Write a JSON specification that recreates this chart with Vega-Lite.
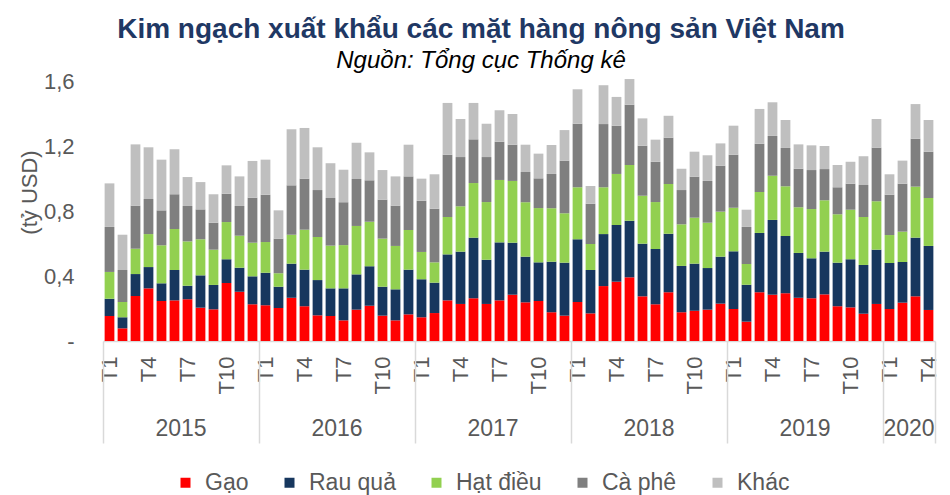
{
  "$schema": "https://vega.github.io/schema/vega-lite/v6.json",
  "width": 832,
  "height": 260,
  "autosize": {"type": "none"},
  "padding": {"left": 103, "top": 81, "right": 15, "bottom": 154},
  "background": "white",
  "config": {"font": "Liberation Sans", "view": {"stroke": null}},
  "title": {
    "text": "Kim ngạch xuất khẩu các mặt hàng nông sản Việt Nam",
    "subtitle": "Nguồn: Tổng cục Thống kê",
    "fontSize": 28,
    "fontWeight": "bold",
    "color": "#1F3864",
    "subtitleFontSize": 24,
    "subtitleFontStyle": "italic",
    "subtitleColor": "#000000",
    "subtitlePadding": 5,
    "anchor": "middle",
    "dx": -38,
    "offset": -3
  },
  "datasets": {
    "kn": [
      {"t": "2015-T1", "Gạo": 0.154, "Rau quả": 0.106, "Hạt điều": 0.165, "Cà phê": 0.277, "Khác": 0.268},
      {"t": "2015-T2", "Gạo": 0.078, "Rau quả": 0.068, "Hạt điều": 0.094, "Cà phê": 0.197, "Khác": 0.217},
      {"t": "2015-T3", "Gạo": 0.277, "Rau quả": 0.135, "Hạt điều": 0.156, "Cà phê": 0.265, "Khác": 0.377},
      {"t": "2015-T4", "Gạo": 0.324, "Rau quả": 0.131, "Hạt điều": 0.203, "Cà phê": 0.216, "Khác": 0.318},
      {"t": "2015-T5", "Gạo": 0.246, "Rau quả": 0.109, "Hạt điều": 0.234, "Cà phê": 0.215, "Khác": 0.312},
      {"t": "2015-T6", "Gạo": 0.250, "Rau quả": 0.187, "Hạt điều": 0.252, "Cà phê": 0.214, "Khác": 0.277},
      {"t": "2015-T7", "Gạo": 0.257, "Rau quả": 0.083, "Hạt điều": 0.273, "Cà phê": 0.218, "Khác": 0.178},
      {"t": "2015-T8", "Gạo": 0.205, "Rau quả": 0.199, "Hạt điều": 0.222, "Cà phê": 0.184, "Khác": 0.168},
      {"t": "2015-T9", "Gạo": 0.195, "Rau quả": 0.150, "Hạt điều": 0.217, "Cà phê": 0.166, "Khác": 0.175},
      {"t": "2015-T10", "Gạo": 0.357, "Rau quả": 0.146, "Hạt điều": 0.229, "Cà phê": 0.174, "Khác": 0.175},
      {"t": "2015-T11", "Gạo": 0.303, "Rau quả": 0.148, "Hạt điều": 0.197, "Cà phê": 0.183, "Khác": 0.182},
      {"t": "2015-T12", "Gạo": 0.226, "Rau quả": 0.172, "Hạt điều": 0.207, "Cà phê": 0.277, "Khác": 0.226},
      {"t": "2016-T1", "Gạo": 0.220, "Rau quả": 0.200, "Hạt điều": 0.189, "Cà phê": 0.291, "Khác": 0.216},
      {"t": "2016-T2", "Gạo": 0.203, "Rau quả": 0.131, "Hạt điều": 0.083, "Cà phê": 0.213, "Khác": 0.174},
      {"t": "2016-T3", "Gạo": 0.266, "Rau quả": 0.210, "Hạt điều": 0.178, "Cà phê": 0.304, "Khác": 0.345},
      {"t": "2016-T4", "Gạo": 0.214, "Rau quả": 0.225, "Hạt điều": 0.246, "Cà phê": 0.314, "Khác": 0.312},
      {"t": "2016-T5", "Gạo": 0.158, "Rau quả": 0.217, "Hạt điều": 0.265, "Cà phê": 0.289, "Khác": 0.263},
      {"t": "2016-T6", "Gạo": 0.154, "Rau quả": 0.170, "Hạt điều": 0.263, "Cà phê": 0.293, "Khác": 0.214},
      {"t": "2016-T7", "Gạo": 0.127, "Rau quả": 0.197, "Hạt điều": 0.266, "Cà phê": 0.264, "Khác": 0.200},
      {"t": "2016-T8", "Gạo": 0.193, "Rau quả": 0.217, "Hạt điều": 0.298, "Cà phê": 0.289, "Khác": 0.223},
      {"t": "2016-T9", "Gạo": 0.217, "Rau quả": 0.243, "Hạt điều": 0.274, "Cà phê": 0.255, "Khác": 0.172},
      {"t": "2016-T10", "Gạo": 0.156, "Rau quả": 0.178, "Hạt điều": 0.296, "Cà phê": 0.240, "Khác": 0.182},
      {"t": "2016-T11", "Gạo": 0.127, "Rau quả": 0.191, "Hạt điều": 0.267, "Cà phê": 0.248, "Khác": 0.180},
      {"t": "2016-T12", "Gạo": 0.164, "Rau quả": 0.275, "Hạt điều": 0.244, "Cà phê": 0.330, "Khác": 0.195},
      {"t": "2017-T1", "Gạo": 0.146, "Rau quả": 0.234, "Hạt điều": 0.168, "Cà phê": 0.315, "Khác": 0.136},
      {"t": "2017-T2", "Gạo": 0.172, "Rau quả": 0.187, "Hạt điều": 0.125, "Cà phê": 0.330, "Khác": 0.212},
      {"t": "2017-T3", "Gạo": 0.250, "Rau quả": 0.283, "Hạt điều": 0.230, "Cà phê": 0.383, "Khác": 0.319},
      {"t": "2017-T4", "Gạo": 0.228, "Rau quả": 0.322, "Hạt điều": 0.279, "Cà phê": 0.303, "Khác": 0.234},
      {"t": "2017-T5", "Gạo": 0.263, "Rau quả": 0.373, "Hạt điều": 0.336, "Cà phê": 0.269, "Khác": 0.224},
      {"t": "2017-T6", "Gạo": 0.228, "Rau quả": 0.272, "Hạt điều": 0.355, "Cà phê": 0.277, "Khác": 0.205},
      {"t": "2017-T7", "Gạo": 0.250, "Rau quả": 0.357, "Hạt điều": 0.384, "Cà phê": 0.235, "Khác": 0.194},
      {"t": "2017-T8", "Gạo": 0.285, "Rau quả": 0.320, "Hạt điều": 0.380, "Cà phê": 0.223, "Khác": 0.189},
      {"t": "2017-T9", "Gạo": 0.238, "Rau quả": 0.281, "Hạt điều": 0.335, "Cà phê": 0.186, "Khác": 0.168},
      {"t": "2017-T10", "Gạo": 0.246, "Rau quả": 0.238, "Hạt điều": 0.334, "Cà phê": 0.183, "Khác": 0.152},
      {"t": "2017-T11", "Gạo": 0.177, "Rau quả": 0.311, "Hạt điều": 0.329, "Cà phê": 0.211, "Khác": 0.178},
      {"t": "2017-T12", "Gạo": 0.156, "Rau quả": 0.326, "Hạt điều": 0.304, "Cà phê": 0.324, "Khác": 0.188},
      {"t": "2018-T1", "Gạo": 0.240, "Rau quả": 0.386, "Hạt điều": 0.320, "Cà phê": 0.391, "Khác": 0.212},
      {"t": "2018-T2", "Gạo": 0.170, "Rau quả": 0.267, "Hạt điều": 0.160, "Cà phê": 0.248, "Khác": 0.109},
      {"t": "2018-T3", "Gạo": 0.338, "Rau quả": 0.320, "Hạt điều": 0.288, "Cà phê": 0.389, "Khác": 0.239},
      {"t": "2018-T4", "Gạo": 0.365, "Rau quả": 0.349, "Hạt điều": 0.314, "Cà phê": 0.297, "Khác": 0.177},
      {"t": "2018-T5", "Gạo": 0.392, "Rau quả": 0.348, "Hạt điều": 0.343, "Cà phê": 0.371, "Khác": 0.158},
      {"t": "2018-T6", "Gạo": 0.275, "Rau quả": 0.324, "Hạt điều": 0.295, "Cà phê": 0.308, "Khác": 0.168},
      {"t": "2018-T7", "Gạo": 0.226, "Rau quả": 0.340, "Hạt điều": 0.289, "Cà phê": 0.248, "Khác": 0.136},
      {"t": "2018-T8", "Gạo": 0.300, "Rau quả": 0.360, "Hạt điều": 0.306, "Cà phê": 0.285, "Khác": 0.135},
      {"t": "2018-T9", "Gạo": 0.177, "Rau quả": 0.285, "Hạt điều": 0.256, "Cà phê": 0.211, "Khác": 0.131},
      {"t": "2018-T10", "Gạo": 0.186, "Rau quả": 0.290, "Hạt điều": 0.283, "Cà phê": 0.252, "Khác": 0.154},
      {"t": "2018-T11", "Gạo": 0.193, "Rau quả": 0.256, "Hạt điều": 0.279, "Cà phê": 0.257, "Khác": 0.158},
      {"t": "2018-T12", "Gạo": 0.230, "Rau quả": 0.289, "Hạt điều": 0.277, "Cà phê": 0.283, "Khác": 0.137},
      {"t": "2019-T1", "Gạo": 0.197, "Rau quả": 0.355, "Hạt điều": 0.268, "Cà phê": 0.326, "Khác": 0.179},
      {"t": "2019-T2", "Gạo": 0.119, "Rau quả": 0.227, "Hạt điều": 0.128, "Cà phê": 0.228, "Khác": 0.106},
      {"t": "2019-T3", "Gạo": 0.300, "Rau quả": 0.365, "Hạt điều": 0.252, "Cà phê": 0.297, "Khác": 0.214},
      {"t": "2019-T4", "Gạo": 0.285, "Rau quả": 0.460, "Hạt điều": 0.272, "Cà phê": 0.245, "Khác": 0.207},
      {"t": "2019-T5", "Gạo": 0.294, "Rau quả": 0.352, "Hạt điều": 0.306, "Cà phê": 0.236, "Khác": 0.172},
      {"t": "2019-T6", "Gạo": 0.266, "Rau quả": 0.276, "Hạt điều": 0.281, "Cà phê": 0.237, "Khác": 0.150},
      {"t": "2019-T7", "Gạo": 0.263, "Rau quả": 0.246, "Hạt điều": 0.303, "Cà phê": 0.240, "Khác": 0.152},
      {"t": "2019-T8", "Gạo": 0.287, "Rau quả": 0.263, "Hạt điều": 0.316, "Cà phê": 0.192, "Khác": 0.142},
      {"t": "2019-T9", "Gạo": 0.214, "Rau quả": 0.268, "Hạt điều": 0.298, "Cà phê": 0.166, "Khác": 0.137},
      {"t": "2019-T10", "Gạo": 0.207, "Rau quả": 0.296, "Hạt điều": 0.305, "Cà phê": 0.160, "Khác": 0.135},
      {"t": "2019-T11", "Gạo": 0.168, "Rau quả": 0.300, "Hạt điều": 0.295, "Cà phê": 0.197, "Khác": 0.177},
      {"t": "2019-T12", "Gạo": 0.228, "Rau quả": 0.334, "Hạt điều": 0.298, "Cà phê": 0.330, "Khác": 0.176},
      {"t": "2020-T1", "Gạo": 0.197, "Rau quả": 0.283, "Hạt điều": 0.172, "Cà phê": 0.248, "Khác": 0.126},
      {"t": "2020-T2", "Gạo": 0.236, "Rau quả": 0.250, "Hạt điều": 0.187, "Cà phê": 0.295, "Khác": 0.142},
      {"t": "2020-T3", "Gạo": 0.275, "Rau quả": 0.361, "Hạt điều": 0.314, "Cà phê": 0.295, "Khác": 0.213},
      {"t": "2020-T4", "Gạo": 0.191, "Rau quả": 0.394, "Hạt điều": 0.295, "Cà phê": 0.285, "Khác": 0.195}
    ],
    "loai": [
      {"loai": "Gạo", "thu_tu": 1},
      {"loai": "Rau quả", "thu_tu": 2},
      {"loai": "Hạt điều", "thu_tu": 3},
      {"loai": "Cà phê", "thu_tu": 4},
      {"loai": "Khác", "thu_tu": 5}
    ]
  },
  "data": {"name": "kn"},
  "transform": [
    {"fold": ["Gạo", "Rau quả", "Hạt điều", "Cà phê", "Khác"], "as": ["loai", "v"]},
    {"lookup": "loai", "from": {"data": {"name": "loai"}, "key": "loai", "fields": ["thu_tu"]}}
  ],
  "layer": [
    {
      "mark": {"type": "bar"},
      "encoding": {
        "x": {
          "field": "t", "type": "nominal", "sort": null,
          "scale": {"paddingInner": 0.25, "paddingOuter": 0.125},
          "axis": {
            "orient": "bottom",
            "title": null,
            "values": ["2015-T1","2015-T4","2015-T7","2015-T10","2016-T1","2016-T4","2016-T7","2016-T10","2017-T1","2017-T4","2017-T7","2017-T10","2018-T1","2018-T4","2018-T7","2018-T10","2019-T1","2019-T4","2019-T7","2019-T10","2020-T1","2020-T4"],
            "labelExpr": "split(datum.value, '-')[1]",
            "labelAngle": 270,
            "labelAlign": "right",
            "labelBaseline": "middle",
            "labelFontSize": 22,
            "labelColor": "#595959",
            "labelPadding": 15,
            "labelOverlap": false,
            "labelBound": false,
            "labelFlush": false,
            "ticks": false,
            "domain": true,
            "domainColor": "#D9D9D9",
            "domainWidth": 1.5
          }
        },
        "y": {
          "field": "v", "type": "quantitative", "stack": "zero",
          "scale": {"domain": [0, 1.6], "nice": false},
          "axis": {
            "values": [0, 0.4, 0.8, 1.2, 1.6],
            "labelExpr": "datum.value == 0 ? '-\u00a0\u00a0' : replace(format(datum.value, '.1f'), '.', ',')",
            "labelFontSize": 22,
            "labelColor": "#595959",
            "labelPadding": 29,
            "ticks": false,
            "domain": false,
            "grid": false,
            "title": "(tỷ USD)",
            "titleFontSize": 22,
            "titleFontWeight": "normal",
            "titleColor": "#595959",
            "titleAngle": 270,
            "titleX": -74,
            "titleY": 111,
            "titleBaseline": "middle",
            "titleAlign": "center"
          }
        },
        "color": {
          "field": "loai", "type": "nominal",
          "scale": {
            "domain": ["Gạo", "Rau quả", "Hạt điều", "Cà phê", "Khác"],
            "range": ["#FF0000", "#17375E", "#92D050", "#7F7F7F", "#BFBFBF"]
          },
          "legend": {
            "orient": "none",
            "legendX": 71,
            "legendY": 390,
            "direction": "horizontal",
            "title": null,
            "symbolType": "square",
            "symbolSize": 100,
            "symbolStrokeWidth": 0,
            "labelFontSize": 23,
            "labelColor": "#595959",
            "labelOffset": 8,
            "columnPadding": 29
          }
        },
        "order": {"field": "thu_tu", "type": "quantitative", "sort": "ascending"}
      }
    },
    {
      "mark": {"type": "point", "opacity": 0},
      "encoding": {
        "x": {
          "field": "t", "type": "nominal", "sort": null,
          "axis": {
            "orient": "bottom",
            "title": null,
            "values": ["2015-T6","2016-T6","2017-T6","2018-T6","2019-T6","2020-T2"],
            "labelExpr": "slice(datum.value, 0, 4)",
            "labelAngle": 0,
            "labelAlign": "center",
            "labelBaseline": "top",
            "labelOffset": 6.5,
            "labelFontSize": 23,
            "labelColor": "#595959",
            "labelPadding": 2,
            "labelOverlap": false,
            "labelBound": false,
            "labelFlush": false,
            "offset": 74,
            "ticks": false,
            "domain": false
          }
        }
      }
    },
    {
      "mark": {"type": "point", "opacity": 0},
      "encoding": {
        "x": {
          "field": "t", "type": "nominal", "sort": null,
          "axis": {
            "orient": "bottom",
            "title": null,
            "values": ["2015-T1","2016-T1","2017-T1","2018-T1","2019-T1","2020-T1"],
            "bandPosition": 0,
            "tickOffset": -1.6,
            "labels": false,
            "ticks": true,
            "tickSize": 102,
            "tickColor": "#D9D9D9",
            "tickWidth": 1.5,
            "domain": false
          }
        }
      }
    },
    {
      "mark": {"type": "point", "opacity": 0},
      "encoding": {
        "x": {
          "field": "t", "type": "nominal", "sort": null,
          "axis": {
            "orient": "bottom",
            "title": null,
            "values": ["2020-T4"],
            "bandPosition": 1,
            "tickOffset": 1.6,
            "labels": false,
            "ticks": true,
            "tickSize": 102,
            "tickColor": "#D9D9D9",
            "tickWidth": 1.5,
            "domain": false
          }
        }
      }
    }
  ],
  "resolve": {"axis": {"x": "independent"}}
}
